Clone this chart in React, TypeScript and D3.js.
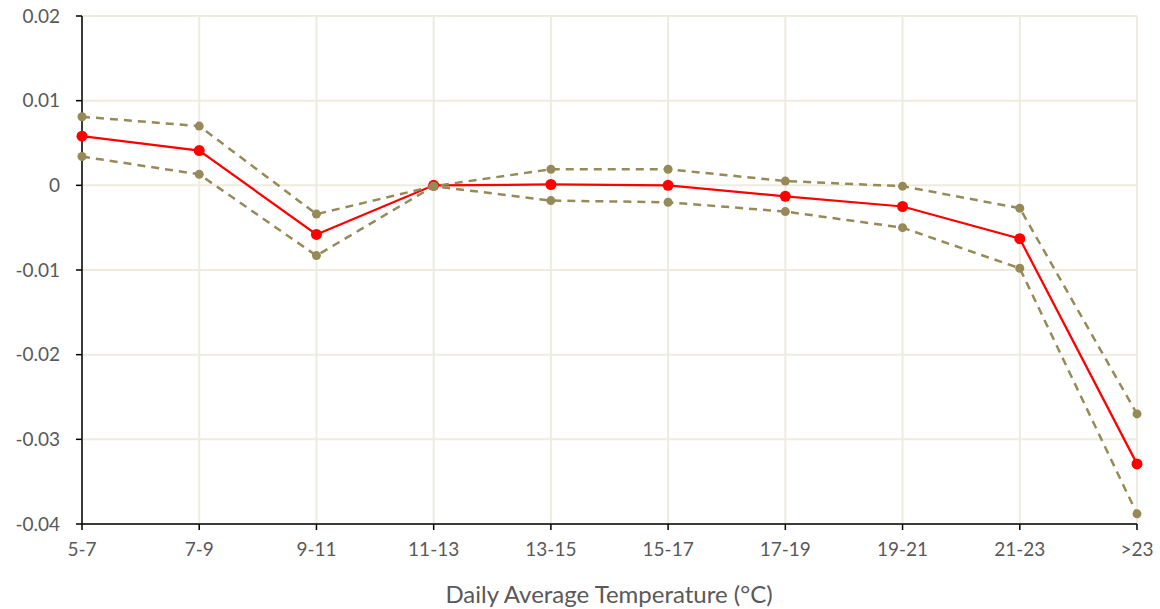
import React from "react";
import * as d3 from "d3";

const categories = ["5-7", "7-9", "9-11", "11-13", "13-15", "15-17", "17-19", "19-21", "21-23", ">23"];
const estimate = [0.0058, 0.0041, -0.0058, 0.0, 0.0001, 0.0, -0.0013, -0.0025, -0.0063, -0.0329];
const upper = [0.0081, 0.007, -0.0034, -0.0001, 0.0019, 0.0019, 0.0005, -0.0001, -0.0027, -0.027];
const lower = [0.0034, 0.0013, -0.0083, -0.0001, -0.0018, -0.002, -0.0031, -0.005, -0.0098, -0.0388];
const yTicks = [0.02, 0.01, 0, -0.01, -0.02, -0.03, -0.04];
const xTitle = "Daily Average Temperature (°C)";

const W = 1160, H = 609;
const left = 82, right = 1137, top = 16, bottom = 524;
const font = "Lato, 'Open Sans', sans-serif";

export default function App() {
  const x = d3.scalePoint<string>().domain(categories).range([left, right]);
  const y = d3.scaleLinear().domain([-0.04, 0.02]).range([bottom, top]);
  const line = d3.line<number>().x((_, i) => x(categories[i])!).y((d) => y(d));
  const gold = "#968a58";
  const fmt = (v: number) => (v === 0 ? "0" : String(v));
  return (
    <svg width={W} height={H} style={{ position: "absolute", left: 0, top: 0, background: "#fff" }}>
      {yTicks.map((t) => (
        <line key={"h" + t} x1={left} x2={right} y1={y(t)} y2={y(t)} stroke="#efebe0" strokeWidth={2} />
      ))}
      {categories.map((c) => (
        <line key={"v" + c} x1={x(c)} x2={x(c)} y1={top} y2={bottom} stroke="#efebe0" strokeWidth={2} />
      ))}
      <line x1={left} x2={left} y1={top} y2={bottom} stroke="#000" strokeWidth={1.5} />
      <line x1={left} x2={right} y1={bottom} y2={bottom} stroke="#000" strokeWidth={1.5} />
      {yTicks.map((t) => (
        <g key={"yt" + t}>
          <line x1={left - 6} x2={left} y1={y(t)} y2={y(t)} stroke="#000" strokeWidth={1.5} />
          <text x={left - 22} y={y(t)} dy="0.35em" textAnchor="end" fontFamily={font} fontSize={19} fill="#595959">
            {fmt(t)}
          </text>
        </g>
      ))}
      {categories.map((c) => (
        <g key={"xt" + c}>
          <line x1={x(c)} x2={x(c)} y1={bottom} y2={bottom + 6} stroke="#000" strokeWidth={1.5} />
          <text x={x(c)} y={bottom + 32} textAnchor="middle" fontFamily={font} fontSize={19} fill="#595959">
            {c}
          </text>
        </g>
      ))}
      <text x={609} y={603} textAnchor="middle" fontFamily={font} fontSize={24} fill="#595959">
        {xTitle}
      </text>
      <path d={line(estimate)!} fill="none" stroke="#ff0000" strokeWidth={2.25} />
      {estimate.map((v, i) => (
        <circle key={"e" + i} cx={x(categories[i])} cy={y(v)} r={5.5} fill="#ff0000" />
      ))}
      {[upper, lower].map((s, k) => (
        <g key={"b" + k}>
          <path d={line(s)!} fill="none" stroke={gold} strokeWidth={2.5} strokeDasharray="8 6" />
          {s.map((v, i) => (
            <circle key={i} cx={x(categories[i])} cy={y(v)} r={4.5} fill={gold} />
          ))}
        </g>
      ))}
    </svg>
  );
}
